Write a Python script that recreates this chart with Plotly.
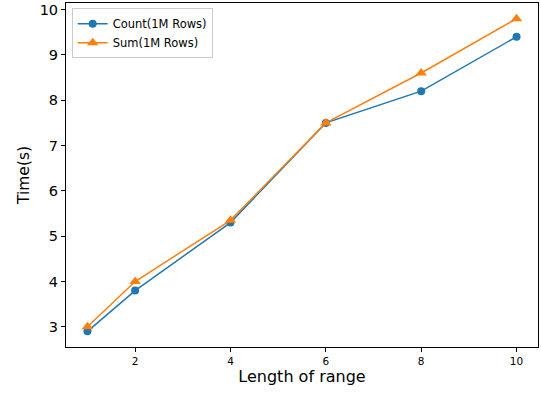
import plotly.graph_objects as go

x_vals = [1, 2, 4, 6, 8, 10]
count_vals = [2.9, 3.8, 5.3, 7.5, 8.2, 9.4]
sum_vals = [3.0, 4.0, 5.35, 7.5, 8.6, 9.8]
x_ticks = [2, 4, 6, 8, 10]
y_ticks = [3, 4, 5, 6, 7, 8, 9, 10]

fig = go.Figure()
fig.add_trace(go.Scatter(x=x_vals, y=count_vals, mode="lines+markers", name="Count(1M Rows)",
                         line=dict(color="#1f77b4", width=1.5),
                         marker=dict(symbol="circle", size=8, color="#1f77b4")))
fig.add_trace(go.Scatter(x=x_vals, y=sum_vals, mode="lines+markers", name="Sum(1M Rows)",
                         line=dict(color="#ff7f0e", width=1.5),
                         marker=dict(symbol="triangle-up", size=10, color="#ff7f0e")))

axis_common = dict(showgrid=False, zeroline=False, showline=True, linecolor="black", linewidth=1,
                   mirror=True, ticks="outside", ticklen=4, tickcolor="black", tickwidth=1)
fig.update_layout(
    width=541, height=394,
    margin=dict(l=66, r=2, t=3, b=47),
    paper_bgcolor="white", plot_bgcolor="white",
    font=dict(family="DejaVu Sans", color="black"),
    xaxis=dict(range=[0.55, 10.45], tickvals=x_ticks, tickfont=dict(size=10.5),
               title=dict(text="Length of range", font=dict(size=16), standoff=5), **axis_common),
    yaxis=dict(range=[2.555, 10.145], tickvals=y_ticks, tickfont=dict(size=14.5),
               title=dict(text="Time(s)", font=dict(size=15.5), standoff=6), **axis_common),
    legend=dict(x=0.012, y=0.985, xanchor="left", yanchor="top", bgcolor="rgba(255,255,255,0.8)",
                bordercolor="#cccccc", borderwidth=1, font=dict(size=11.5), tracegroupgap=0),
    showlegend=True,
)
post = ("document.body.style.margin='0';document.body.style.overflow='hidden';"
        "var gd=document.getElementById('{plot_id}');Plotly.relayout(gd,{width:541,height:394});")
fig.write_html("out.html", post_script=post, config={"displayModeBar": False})
